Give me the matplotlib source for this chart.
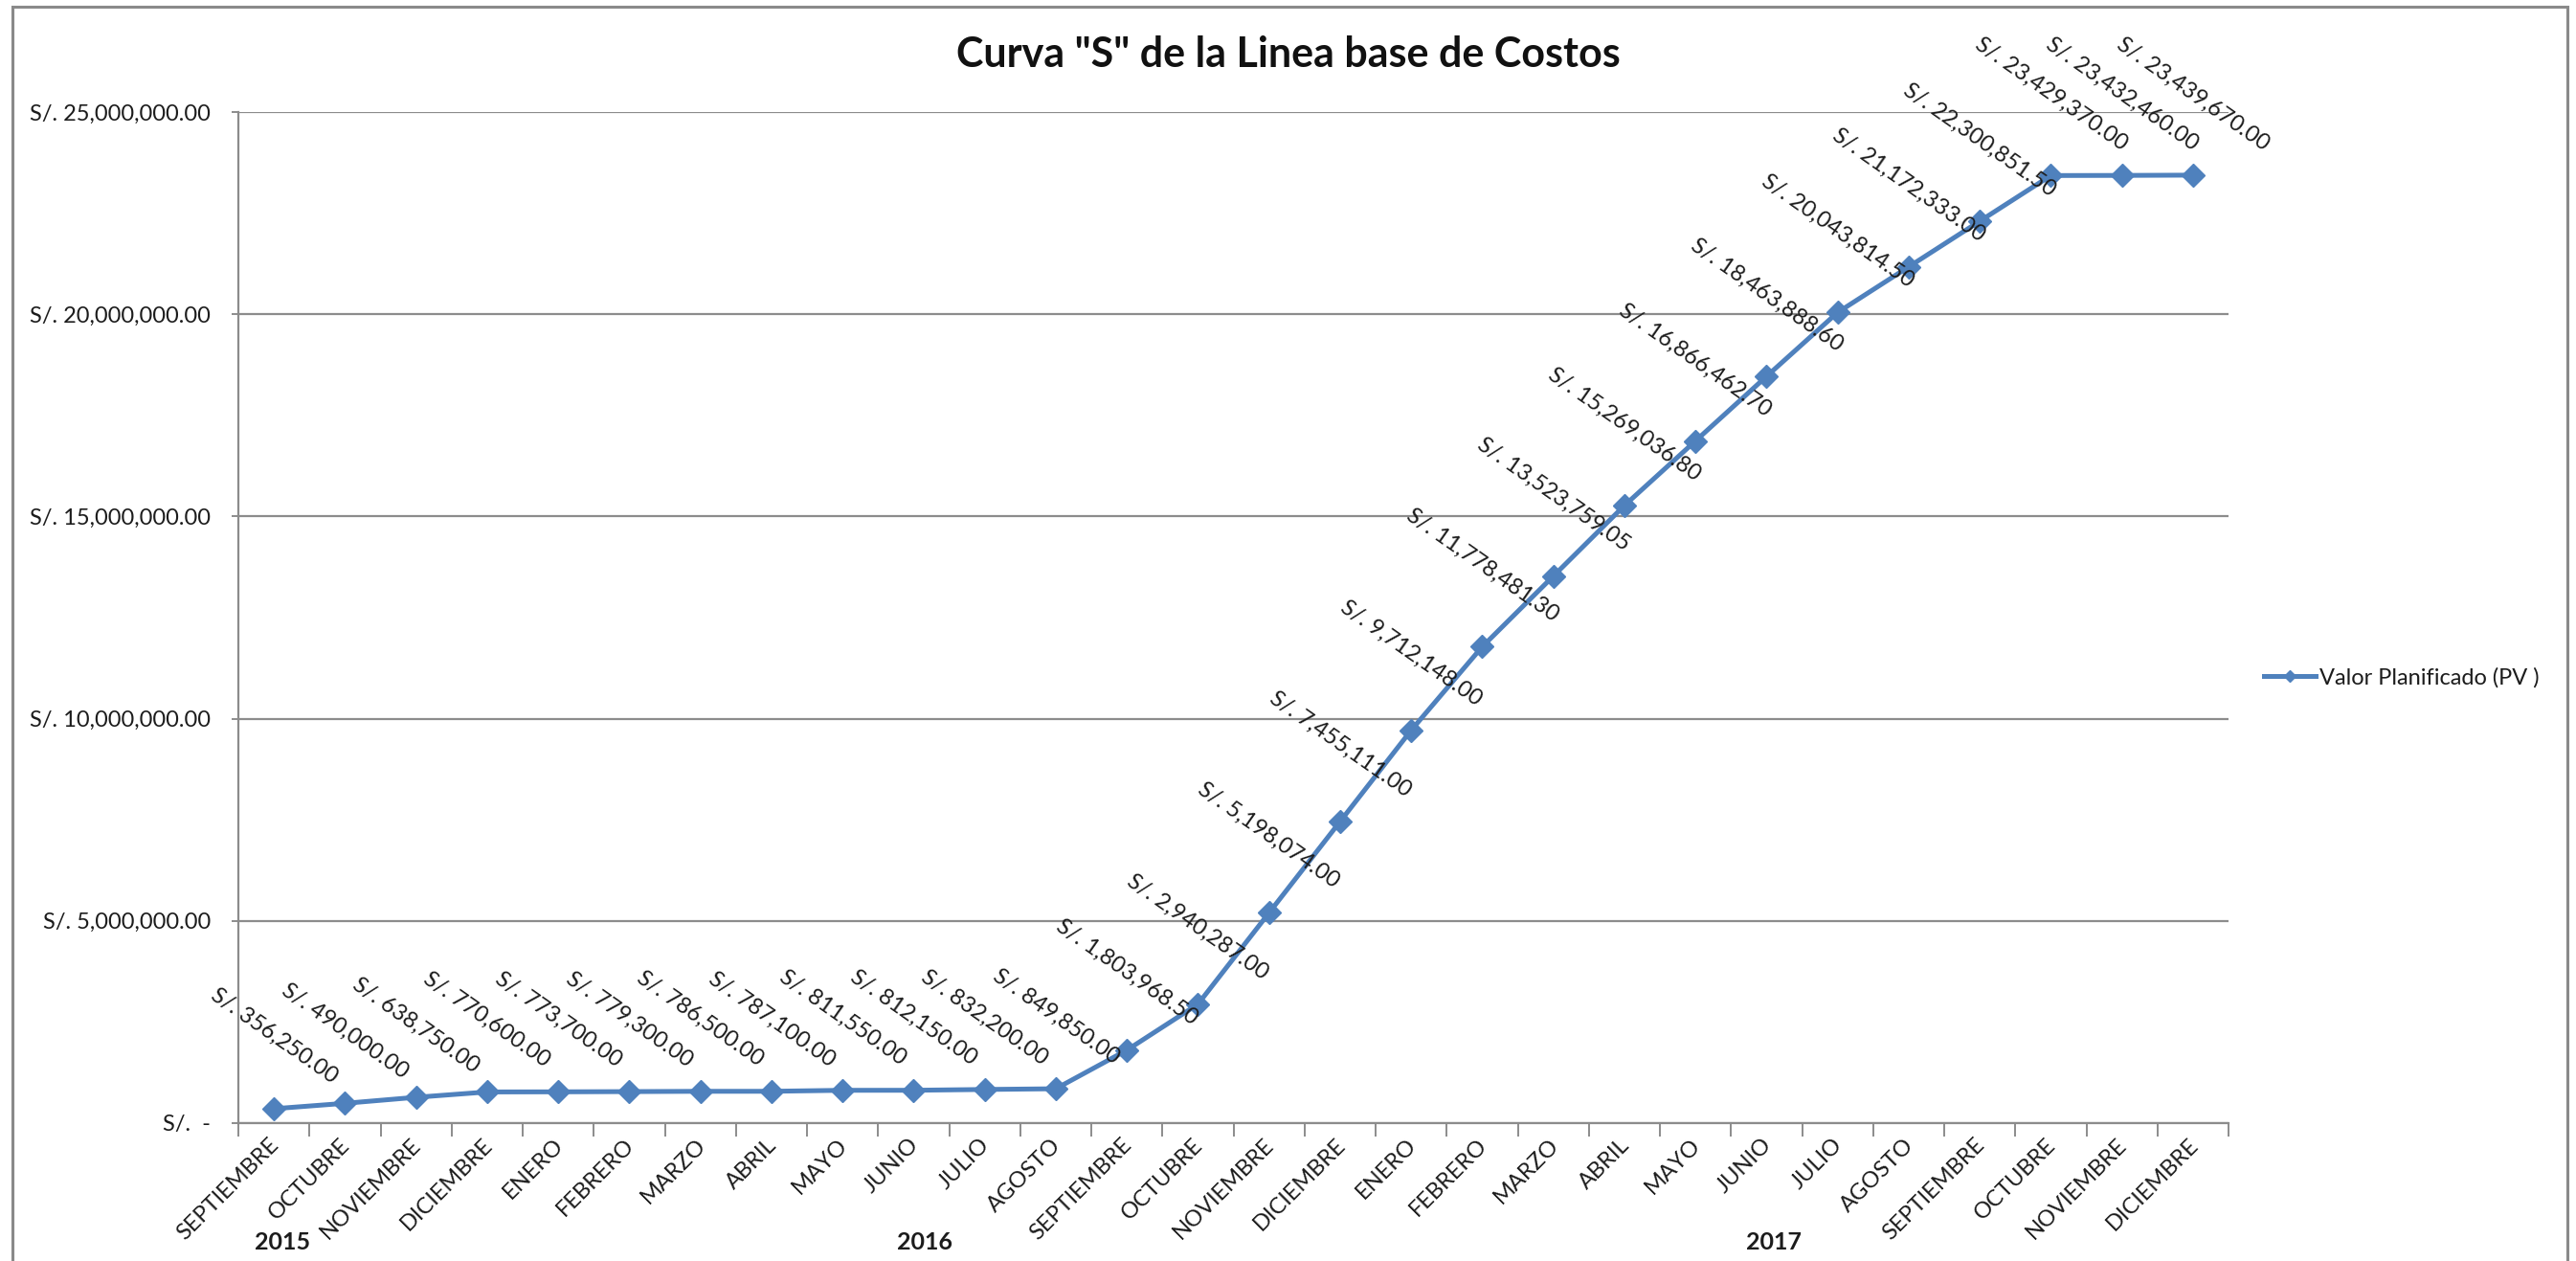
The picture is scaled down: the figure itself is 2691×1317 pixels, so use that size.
import matplotlib
matplotlib.use("Agg")
import matplotlib.pyplot as plt
from matplotlib.patches import Rectangle
from matplotlib.transforms import ScaledTranslation

plt.rcParams['font.family'] = ['Lato', 'DejaVu Sans']

# ---------------- data ----------------
months = ["SEPTIEMBRE", "OCTUBRE", "NOVIEMBRE", "DICIEMBRE",
          "ENERO", "FEBRERO", "MARZO", "ABRIL", "MAYO", "JUNIO", "JULIO", "AGOSTO",
          "SEPTIEMBRE", "OCTUBRE", "NOVIEMBRE", "DICIEMBRE",
          "ENERO", "FEBRERO", "MARZO", "ABRIL", "MAYO", "JUNIO", "JULIO", "AGOSTO",
          "SEPTIEMBRE", "OCTUBRE", "NOVIEMBRE", "DICIEMBRE"]
years = ["2015", "2016", "2017"]
year_counts = [4, 12, 12]
pv_values = [356250.00, 490000.00, 638750.00, 770600.00,
             773700.00, 779300.00, 786500.00, 787100.00, 811550.00, 812150.00,
             832200.00, 849850.00, 1803968.50, 2940287.00, 5198074.00, 7455111.00,
             9712148.00, 11778481.30, 13523759.05, 15269036.80, 16866462.70,
             18463888.60, 20043814.50, 21172333.00, 22300851.50, 23429370.00,
             23432460.00, 23439670.00]
y_ticks = [0, 5000000, 10000000, 15000000, 20000000, 25000000]
y_tick_labels = ["S/.  -", "S/. 5,000,000.00", "S/. 10,000,000.00",
                 "S/. 15,000,000.00", "S/. 20,000,000.00", "S/. 25,000,000.00"]
series_name = "Valor Planificado (PV )"
title = 'Curva "S" de la Linea base de Costos'

# ---------------- style ----------------
W, H = 2691, 1317
DPI = 100
blue = "#4F81BD"
grid_c = "#8C8C8C"
txt_c = "#1C1C1C"
fs = 17

fig = plt.figure(figsize=(W / DPI, H / DPI), dpi=DPI)
fig.patch.set_facecolor("white")

left, right, top, bottom = 249, 2328, 117, 1173
ax = fig.add_axes([left / W, 1 - bottom / H, (right - left) / W, (bottom - top) / H])

x = list(range(len(pv_values)))
ax.plot(x, pv_values, color=blue, lw=3.6, marker="D", ms=12,
        mfc=blue, mec=blue, mew=1, label=series_name, zorder=3)

ax.set_xlim(-0.5, len(pv_values) - 0.5)
ax.set_ylim(0, 25000000)

ax.set_yticks(y_ticks)
ax.set_yticklabels(y_tick_labels, fontsize=fs, color=txt_c)
ax.yaxis.grid(True, color=grid_c, lw=1.6)
ax.set_axisbelow(True)
ax.tick_params(axis="y", length=5, width=1.4, color=grid_c, pad=16)

ax.set_xticks(x)
ax.set_xticklabels(months, fontsize=fs, color=txt_c, rotation=45,
                   ha="right", va="center", rotation_mode="anchor")
ax.tick_params(axis="x", which="major", length=0, pad=14)
shift = ScaledTranslation(2 / DPI, 0, fig.dpi_scale_trans)
for lab in ax.get_xticklabels():
    lab.set_transform(lab.get_transform() + shift)
ax.set_xticks([i - 0.5 for i in range(len(pv_values) + 1)], minor=True)
ax.tick_params(axis="x", which="minor", length=10, width=1.4, color=grid_c)

for s in ["top", "right"]:
    ax.spines[s].set_visible(False)
for s in ["left", "bottom"]:
    ax.spines[s].set_color(grid_c)
    ax.spines[s].set_linewidth(1.6)

# data labels
for xi, v in zip(x, pv_values):
    ax.annotate(f"S/. {v:,.2f}", (xi, v), xytext=(0, 16), textcoords="offset points",
                ha="center", va="bottom", rotation=-35, fontsize=fs, color=txt_c,
                zorder=4)

# year labels (multi-level category axis)
year_x = [0.12, 9.15, 21.1]
for yx, yl in zip(year_x, years):
    ax.text(yx, -0.118, yl, transform=ax.get_xaxis_transform(), ha="center",
            va="center", fontsize=fs + 1, fontweight="bold", color=txt_c)

# title
fig.text(0.5, 1 - 57 / H, title, ha="center", va="center", fontsize=31,
         fontweight="bold", color="#111111")

# legend
leg = fig.legend(loc="center left", bbox_to_anchor=(2365 / W, 1 - 708 / H),
                 frameon=False, fontsize=fs, handlelength=2.3, handletextpad=0.15,
                 borderpad=0, borderaxespad=0, markerscale=0.5)
for t in leg.get_texts():
    t.set_color(txt_c)

# chart area border
fig.patches.append(Rectangle((13 / W, -0.05), (2682 - 13) / W, 1 - 7 / H + 0.05,
                             transform=fig.transFigure, fill=False,
                             edgecolor="#8A8A8A", lw=2.2))

fig.savefig("out.png", dpi=DPI, facecolor="white")
